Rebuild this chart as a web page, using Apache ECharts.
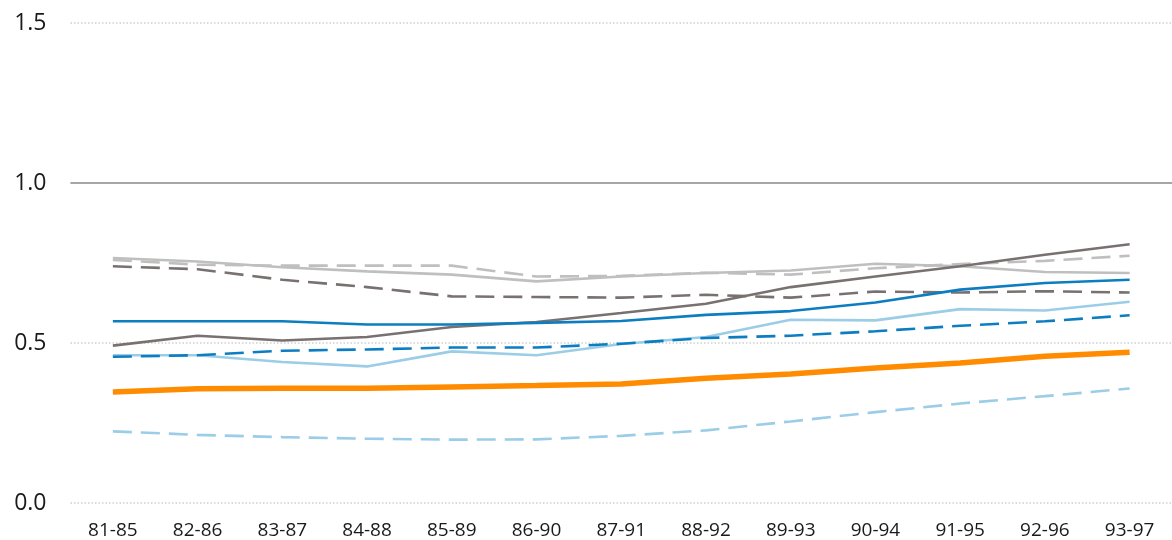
<!DOCTYPE html>
<html>
<head>
<meta charset="utf-8">
<script src="https://cdn.jsdelivr.net/npm/echarts@6/dist/echarts.min.js"></script>
<style>
html,body{margin:0;padding:0;background:#fff;}
#chart{width:1172px;height:540px;}
</style>
</head>
<body>
<div id="chart"></div>
<script>
const categories = ['81-85','82-86','83-87','84-88','85-89','86-90','87-91','88-92','89-93','90-94','91-95','92-96','93-97'];
const yTicks = [0, 0.5, 1.0, 1.5];

const lightGreySolid  = [0.766, 0.755, 0.737, 0.724, 0.714, 0.693, 0.708, 0.719, 0.727, 0.748, 0.740, 0.722, 0.719];
const lightGreyDashed = [0.760, 0.745, 0.742, 0.742, 0.742, 0.708, 0.710, 0.720, 0.714, 0.734, 0.747, 0.757, 0.773];
const darkGreyDashed  = [0.740, 0.731, 0.698, 0.675, 0.646, 0.644, 0.642, 0.651, 0.642, 0.661, 0.658, 0.662, 0.658];
const darkGreySolid   = [0.492, 0.523, 0.508, 0.519, 0.550, 0.566, 0.594, 0.623, 0.675, 0.708, 0.740, 0.776, 0.809];
const blueSolid       = [0.568, 0.568, 0.568, 0.558, 0.558, 0.563, 0.569, 0.588, 0.600, 0.627, 0.667, 0.688, 0.698];
const blueDashed      = [0.457, 0.462, 0.476, 0.480, 0.486, 0.486, 0.498, 0.516, 0.523, 0.537, 0.554, 0.568, 0.587];
const lightBlueSolid  = [0.462, 0.462, 0.441, 0.427, 0.474, 0.462, 0.497, 0.519, 0.573, 0.571, 0.606, 0.602, 0.629];
const lightBlueDashed = [0.224, 0.213, 0.206, 0.201, 0.198, 0.199, 0.210, 0.227, 0.255, 0.284, 0.311, 0.334, 0.358];
const orangeSeries    = [0.347, 0.357, 0.359, 0.359, 0.363, 0.367, 0.372, 0.390, 0.403, 0.422, 0.438, 0.459, 0.471];

const GREY = '#BFBFBF', DARK = '#787170', BLUE = '#0C7DC0', LBLUE = '#9BCDE7', ORANGE = '#FF8C00';
const DASH = [19, 9];

function line(name, data, color, width, dashed, z) {
  return {
    name: name, type: 'line', data: data, symbol: 'none', smooth: false, z: z || 2,
    lineStyle: { color: color, width: width, type: dashed ? DASH : 'solid', cap: 'butt' },
    emphasis: { disabled: true }
  };
}

const chart = echarts.init(document.getElementById('chart'), null, { renderer: 'canvas' });
const seriesList = [
  line('lightGreySolid', lightGreySolid, GREY, 2.6, false),
  line('lightGreyDashed', lightGreyDashed, GREY, 2.6, true),
  line('darkGreyDashed', darkGreyDashed, DARK, 2.6, true),
  line('darkGreySolid', darkGreySolid, DARK, 2.6, false),
  line('lightBlueSolid', lightBlueSolid, LBLUE, 2.6, false),
  line('blueSolid', blueSolid, BLUE, 2.6, false),
  line('blueDashed', blueDashed, BLUE, 2.6, true),
  line('lightBlueDashed', lightBlueDashed, LBLUE, 2.6, true),
  line('orange', orangeSeries, ORANGE, 5.5, false, 3)
];
seriesList[0].markLine = {
  silent: true, symbol: 'none', label: { show: false },
  lineStyle: { color: '#A6A6A6', width: 2, type: 'solid' },
  data: [{ yAxis: yTicks[2] }]
};

chart.setOption({
  animation: false,
  backgroundColor: '#ffffff',
  textStyle: { fontFamily: '"Open Sans", "Noto Sans", sans-serif' },
  grid: { left: 70.5, right: -12.5, top: 23.2, bottom: 36.5, containLabel: false },
  xAxis: {
    type: 'category',
    data: categories,
    boundaryGap: true,
    axisLine: { show: false },
    axisTick: { show: false },
    splitLine: { show: false },
    axisLabel: { color: '#1a1a1a', fontSize: 19, margin: 18, interval: 0 }
  },
  yAxis: {
    type: 'value',
    min: yTicks[0], max: yTicks[3], interval: 0.5,
    axisLine: { show: false },
    axisTick: { show: false },
    axisLabel: { color: '#1a1a1a', fontSize: 23, margin: 24, formatter: v => v.toFixed(1) },
    splitLine: { show: true, lineStyle: { color: '#CFCFCF', width: 1.5, type: [1.5, 2] } }
  },
  series: seriesList
});
</script>
</body>
</html>
